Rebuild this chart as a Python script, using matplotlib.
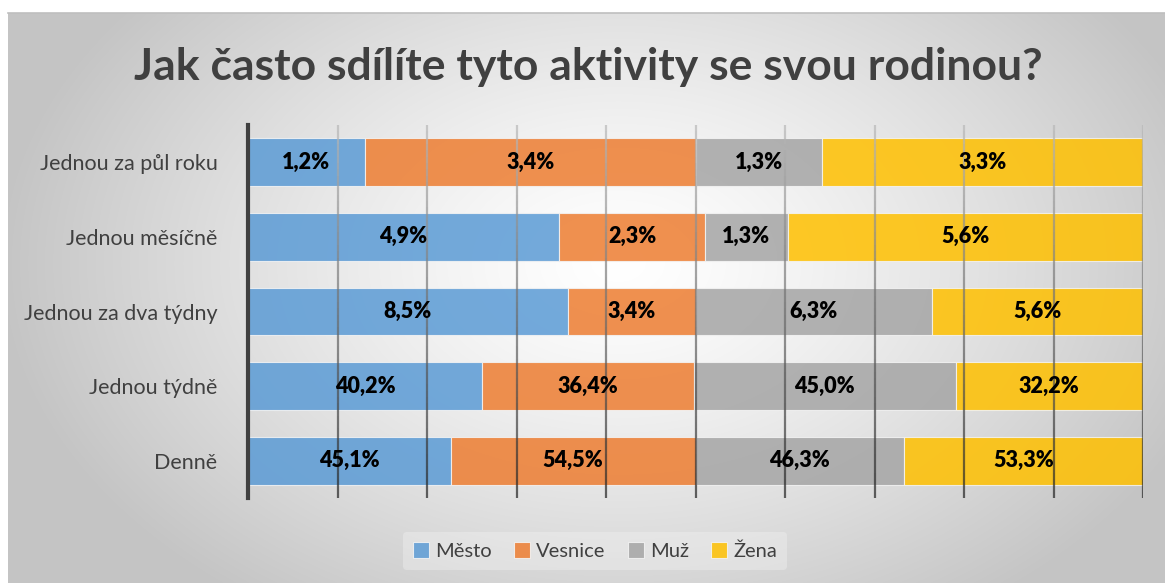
import numpy as np
import matplotlib.pyplot as plt
from matplotlib.collections import LineCollection

# Jak často sdílíte tyto aktivity se svou rodinou? (100% skládaný pruhový graf)

categories = ["Jednou za půl roku", "Jednou měsíčně", "Jednou za dva týdny",
              "Jednou týdně", "Denně"]
series_names = ["Město", "Vesnice", "Muž", "Žena"]
mesto = [1.2, 4.9, 8.5, 40.2, 45.1]
vesnice = [3.4, 2.3, 3.4, 36.4, 54.5]
muz = [1.3, 1.3, 6.3, 45.0, 46.3]
zena = [3.3, 5.6, 5.6, 32.2, 53.3]
colors = ["#5b9bd5", "#ed7d31", "#a5a5a5", "#ffc000"]

plt.rcParams['font.family'] = ['Lato', 'DejaVu Sans']

fig = plt.figure(figsize=(11.65, 5.83), dpi=100)
fig.patch.set_facecolor("white")

# --- radial gradient background of the chart area ---
bg = fig.add_axes([8 / 1165, 0, 1 - 8 / 1165, 1 - 13 / 583], zorder=-10)
h, w = 570, 1157
yy, xx = np.mgrid[0:h, 0:w]
r = np.sqrt(((xx - 610) / 620.0) ** 2 + ((yy - 250) / 420.0) ** 2)
r = np.clip(r, 0, 1)
shade = 1.0 - 0.23 * r ** 1.3
bg.imshow(np.dstack([shade] * 3), aspect="auto", extent=(0, 1, 0, 1))
bg.set_axis_off()
fig.add_artist(plt.Line2D([8 / 1165, 1], [1 - 13 / 583] * 2, color="#bfbfbf", lw=1.2))

ax = fig.add_axes([248 / 1165, 85 / 583, 895 / 1165, 373 / 583])
ax.patch.set_alpha(0)

data = np.array([mesto, vesnice, muz, zena])
totals = data.sum(axis=0)
shares = data / totals * 100
ypos = np.arange(len(categories))

left = np.zeros(len(categories))
for i, name in enumerate(series_names):
    ax.barh(ypos, shares[i], left=left, height=0.64, color=colors[i], alpha=0.85,
            edgecolor="#f4f4f4", linewidth=0.8, label=name, zorder=2)
    for y, l, s, v in zip(ypos, left, shares[i], data[i]):
        ax.text(l + s / 2, y, f"{v:.1f}".replace(".", ",") + "%", ha="center", va="center",
                fontsize=15.5, fontweight="heavy", color="black", zorder=4)
    left += shares[i]

ax.set_xlim(0, 100)
ax.set_ylim(len(categories) - 0.5, -0.5)

# gridlines getting darker toward the bottom
segs, cols = [], []
ys = np.linspace(-0.5, len(categories) - 0.5, 60)
for gx in np.arange(10, 101, 10):
    for k in range(len(ys) - 1):
        segs.append([(gx, ys[k]), (gx, ys[k + 1])])
        t = k / (len(ys) - 2)
        c = 0.72 - 0.58 * t
        cols.append((c, c, c, 0.7))
ax.add_collection(LineCollection(segs, colors=cols, linewidths=1.6, zorder=3))

ax.set_yticks(ypos)
ax.set_yticklabels(categories, fontsize=15.5, color="#404040")
ax.set_xticks([])
ax.tick_params(axis="y", length=0, pad=22)
for s in ["top", "right", "bottom"]:
    ax.spines[s].set_visible(False)
ax.spines["left"].set_color("#404040")
ax.spines["left"].set_linewidth(3)
ax.spines["left"].set_zorder(5)

fig.text(0.505, 0.885, "Jak často sdílíte tyto aktivity se svou rodinou?", ha="center",
         va="center", fontsize=32, fontweight="bold", color="#404040")

leg = ax.legend(loc="center", bbox_to_anchor=(595 / 1165, 32 / 583),
                bbox_transform=fig.transFigure, ncol=4, frameon=True,
                fontsize=14.5, handlelength=0.8, handleheight=0.8, handletextpad=0.3,
                columnspacing=1.1, borderpad=0.5)
leg.get_frame().set_facecolor("#f2f2f2")
leg.get_frame().set_alpha(0.4)
leg.get_frame().set_edgecolor("none")
for t in leg.get_texts():
    t.set_color("#404040")

fig.savefig("out.png", dpi=100)
